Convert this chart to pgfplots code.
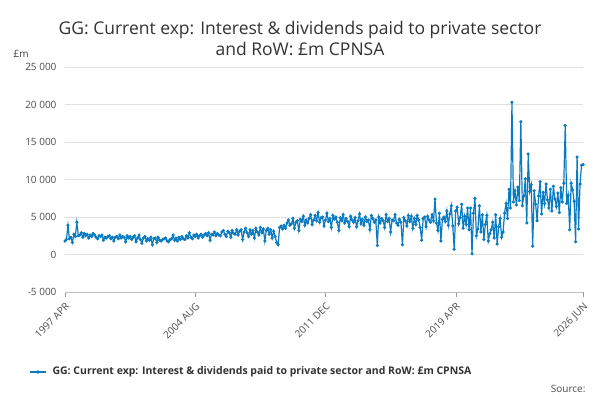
\documentclass[border=0pt]{standalone}
\usepackage{pgfplots}
\pgfplotsset{compat=1.18}
\usepackage{pgfplotstable}
\usepackage{fontspec}
\setmainfont{Open Sans}
\definecolor{ln}{HTML}{0A7BC1}
\pgfplotstableread{
v
1800
2000
3900
2100
2300
1600
2700
2400
4300
2500
2600
2900
2300
2800
2500
2700
2200
2600
2400
2800
2600
2300
2100
2500
2400
2600
1900
2300
2200
2400
2500
2100
2300
1800
2300
2400
2100
2600
2200
2400
2300
1700
2500
2200
2400
2000
2300
2500
1700
2200
2600
2000
1500
2200
2400
1800
2100
1900
2300
1300
2100
2200
1600
2300
1900
1800
2000
2100
2200
1800
1700
2000
2100
2600
1900
2200
1800
2300
2000
2400
2100
2000
2500
2200
2900
2300
2100
2600
2400
2700
2200
2500
2700
2300
2600
2800
2500
2900
1900
2700
2600
3000
2500
2800
2600
2500
3000
3200
2700
2400
3100
2900
2300
3200
2800
2700
3300
2600
3100
3300
2000
3000
3500
2900
2400
3300
2700
3200
2200
3500
3000
2600
3600
2900
3400
1800
3200
3500
2700
3300
2200
3100
2400
1600
1300
3600
3800
3400
3900
3500
4200
4600
3900
4100
4800
3500
4300
4500
3200
4700
4400
5100
3900
4600
4200
4800
5300
4000
4600
5200
4500
5600
4300
4900
5000
3800
4600
5500
4400
4800
3600
5200
4700
5000
4300
3200
4900
4500
5300
4200
4800
4400
3700
5100
4600
4300
4900
3700
4500
5400
4100
4700
3900
5000
4400
4600
3300
5200
4800
4300
4600
1200
5000
4200
4800
4500
3600
5300
4400
4800
3000
4600
4500
5300
4200
3900
4700
4300
1300
4900
4500
3800
5200
4400
5100
3500
4800
4000
5200
4600
3600
1900
4800
5000
3700
5100
4600
4300
5300
4500
7400
4200
3200
5500
1800
4700
5000
4400
5800
3900
5400
6500
3800
700
5800
6300
4100
4900
6700
3500
5100
4000
6200
3300
6200
100
5500
7500
2500
3400
6500
3000
5300
2000
4000
5200
1800
2800
3300
4300
2200
5300
1400
3700
4800
2300
3000
5500
6800
4800
8700
6200
20300
7000
8500
6600
9000
7200
17700
6500
7800
10100
4200
13400
8400
9300
1100
8500
6700
4500
7800
9700
5400
8300
6800
9400
7300
6200
8700
5800
9100
7400
6400
8200
5600
8900
7000
9500
17200
6800
7900
3300
9500
8600
7100
1700
13000
3400
9400
11900
12000
}\data
\begin{document}
\begin{tikzpicture}
\path[use as bounding box,fill=white] (0pt,0pt) rectangle (600pt,400pt);
\node[font=\fontsize{17.5}{21}\selectfont,color=black!80,align=center] at (300pt,362pt) {GG: Current exp: Interest \& dividends paid to private sector\\and RoW: £m CPNSA};
\node[font=\fontsize{10}{12}\selectfont,color=black!75,anchor=west] at (10pt,346pt) {£m};
\begin{axis}[at={(65pt,108pt)},anchor=south west,scale only axis,width=518pt,height=225pt,
 xmin=0,xmax=350,ymin=-5000,ymax=25000,scaled y ticks=false,
 ytick={-5000,0,5000,10000,15000,20000,25000},
 yticklabels={-5 000,0,5 000,10 000,15 000,20 000,25 000},
 xtick={0,88,176,264,350},
 xticklabels={1997 APR,2004 AUG,2011 DEC,2019 APR,2026 JUN},
 xticklabel style={rotate=45,anchor=north east,font=\fontsize{10}{12}\selectfont,color=black!70},
 yticklabel style={font=\fontsize{10}{12}\selectfont,color=black!70},
 ymajorgrids,grid style={black!12},
 axis x line*=bottom, axis y line*=left,
 y axis line style={draw=none},
 x axis line style={black!25},
 xtick style={black!40},ytick style={draw=none},tick align=outside,major tick length=5pt,
 ]
\addplot[ln,line width=1.2pt,mark=*,mark size=0.9pt] table[x expr=\coordindex,y=v]{\data};
\end{axis}
\draw[ln,line width=1.4pt] (30pt,28pt) -- (46pt,28pt);
\fill[ln] (38pt,28pt) circle (1.8pt);
\node[font=\bfseries\fontsize{10.5}{12}\selectfont,color=black!80,anchor=west] at (49pt,28pt) {GG: Current exp: Interest \& dividends paid to private sector and RoW: £m CPNSA};
\node[font=\fontsize{10}{12}\selectfont,color=black!70,anchor=east] at (589pt,11pt) {Source:};
\end{tikzpicture}
\end{document}
